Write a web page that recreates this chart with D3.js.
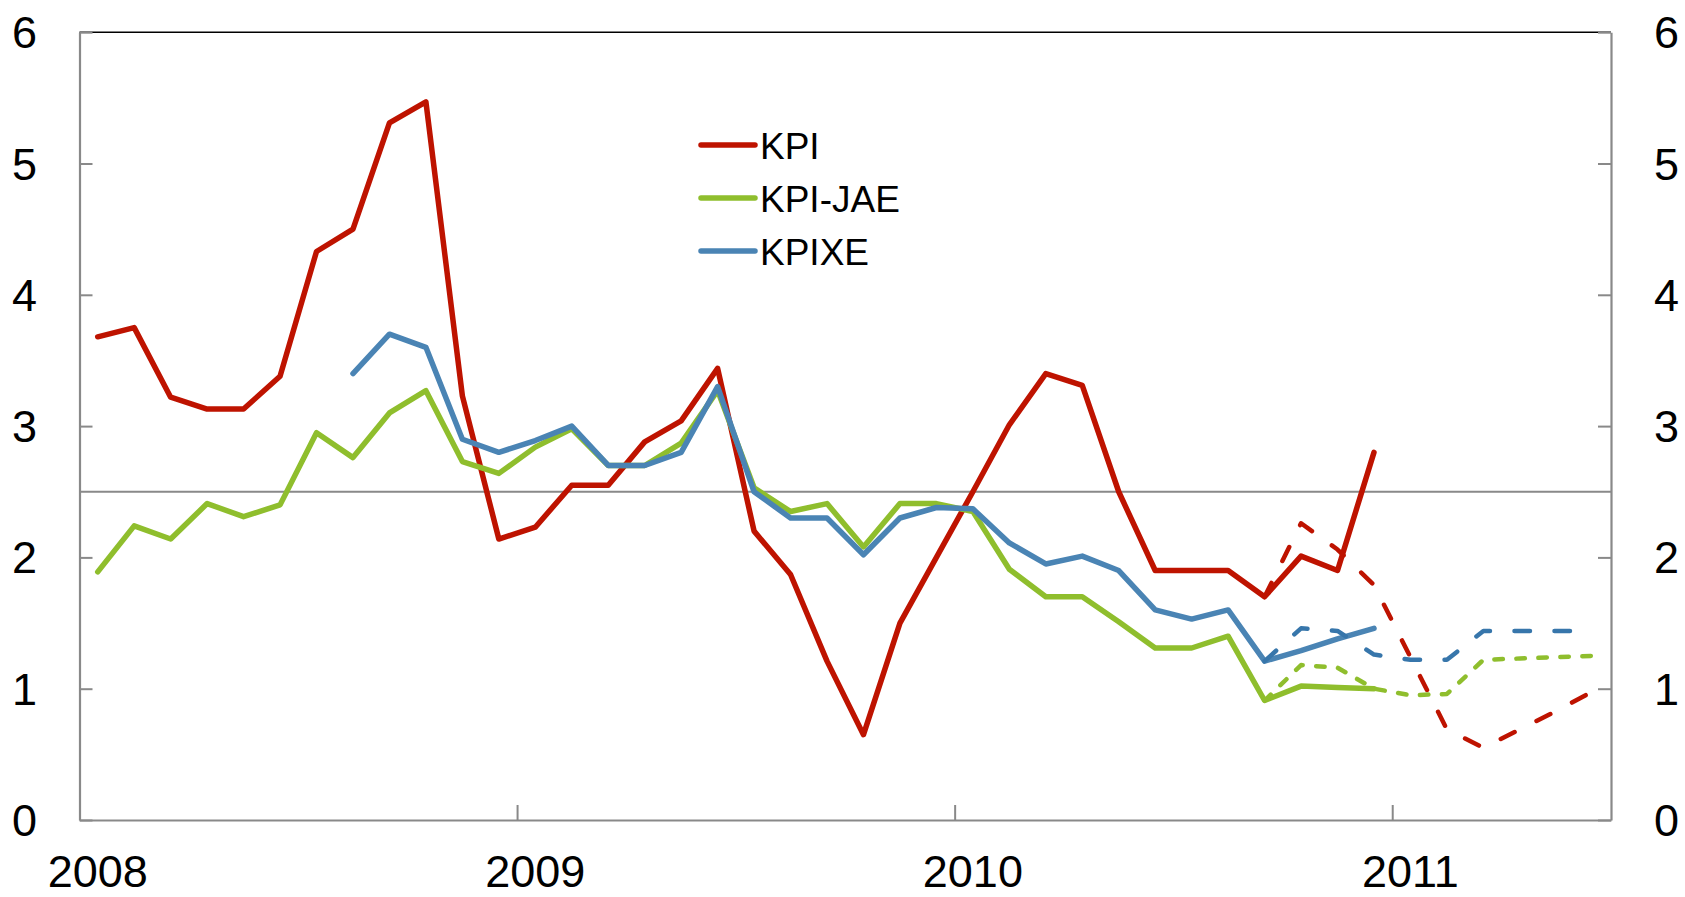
<!DOCTYPE html>
<html>
<head>
<meta charset="utf-8">
<script src="https://cdn.jsdelivr.net/npm/d3@7"></script>
<style>
  html, body { margin: 0; padding: 0; background: #fff; }
  svg { display: block; }
  text { font-family: "Liberation Sans", Arial, sans-serif; fill: #000; }
</style>
</head>
<body>
<svg id="chart" width="1685" height="897"></svg>
<script>
// Month index 0 = January 2008
const yearLabels = ["2008", "2009", "2010", "2011"];
const yTicks = [0, 1, 2, 3, 4, 5, 6];
const targetLevel = 2.5;

// Solid actual series (start month index given)
const kpiStart = 0;
const kpi = [3.68, 3.75, 3.22, 3.13, 3.13, 3.38, 4.33, 4.50, 5.31, 5.47, 3.23, 2.14,
             2.23, 2.55, 2.55, 2.88, 3.04, 3.44, 2.20, 1.87, 1.21, 0.65, 1.50, 2.00,
             2.50, 3.01, 3.40, 3.31, 2.50, 1.90, 1.90, 1.90, 1.70, 2.01, 1.90, 2.80];
const kpiJaeStart = 0;
const kpiJae = [1.89, 2.24, 2.14, 2.41, 2.31, 2.40, 2.95, 2.76, 3.10, 3.27, 2.73, 2.64,
                2.84, 2.98, 2.70, 2.70, 2.87, 3.27, 2.53, 2.35, 2.41, 2.08, 2.41, 2.41,
                2.35, 1.91, 1.70, 1.70, 1.51, 1.31, 1.31, 1.40, 0.91, 1.02, 1.01, 1.00];
const kpixeStart = 7;
const kpixe = [3.40, 3.70, 3.60, 2.90, 2.80, 2.89,
               3.00, 2.70, 2.70, 2.80, 3.30, 2.50, 2.30, 2.30, 2.02, 2.30, 2.38,
               2.37, 2.11, 1.95, 2.01, 1.90, 1.60, 1.53, 1.60, 1.21, 1.29, 1.38, 1.46];

// Dashed projections (start month index 32 = September 2010)
const projStart = 32;
const kpiProj    = [1.70, 2.26, 2.06, 1.79, 1.24, 0.69, 0.55, 0.69, 0.83, 0.98];
const kpiJaeProj = [0.91, 1.18, 1.16, 1.00, 0.95, 0.96, 1.22, 1.23, 1.24, 1.25];
const kpixeProj  = [1.21, 1.46, 1.44, 1.26, 1.22, 1.22, 1.44, 1.44, 1.44, 1.44];

const seriesNames = ["KPI", "KPI-JAE", "KPIXE"];
const colors = { "KPI": "#BE1300", "KPI-JAE": "#8FBE2D", "KPIXE": "#4A84B4" };
const projColors = { "KPI": "#BE1300", "KPI-JAE": "#8FBE2D", "KPIXE": "#3776AB" };

const svg = d3.select("#chart");
const plotLeft = 79.5, plotRight = 1611, plotTop = 32.2, plotBottom = 820;
const x = d3.scaleLinear().domain([0, 42]).range([plotLeft, plotRight]);
const y = d3.scaleLinear().domain([0, 6]).range([plotBottom, plotTop]);
const gray = "#898989";

// target line
svg.append("line")
  .attr("x1", x(0)).attr("x2", x(42))
  .attr("y1", y(targetLevel)).attr("y2", y(targetLevel))
  .attr("stroke", gray).attr("stroke-width", 2);

// top border
svg.append("line")
  .attr("x1", x(0)).attr("x2", x(42))
  .attr("y1", y(6)).attr("y2", y(6))
  .attr("stroke", "#000").attr("stroke-width", 1.6);

// axes
const leftAxis = d3.axisRight(y).tickValues(yTicks).tickSize(13).tickSizeOuter(0).tickFormat("");
const gl = svg.append("g").attr("transform", `translate(${x(0)},0)`).call(leftAxis);
const rightAxis = d3.axisLeft(y).tickValues(yTicks).tickSize(13).tickSizeOuter(0).tickFormat("");
const gr = svg.append("g").attr("transform", `translate(${x(42)},0)`).call(rightAxis);
const bottomAxis = d3.axisTop(x).tickValues([0, 12, 24, 36]).tickSize(15).tickSizeOuter(0).tickFormat("");
const gb = svg.append("g").attr("transform", `translate(0,${y(0)})`).call(bottomAxis);
[gl, gr, gb].forEach(g => {
  g.select(".domain").attr("stroke", gray).attr("stroke-width", 2.2);
  g.selectAll(".tick line").attr("stroke", gray).attr("stroke-width", 2);
});

// y labels
svg.append("g").selectAll("text").data(yTicks).join("text")
  .attr("x", 37).attr("y", d => y(d) + 16)
  .attr("text-anchor", "end").attr("font-size", 45).text(d => d);
svg.append("g").selectAll("text").data(yTicks).join("text")
  .attr("x", 1654).attr("y", d => y(d) + 16)
  .attr("text-anchor", "start").attr("font-size", 45).text(d => d);

// year labels
svg.append("g").selectAll("text").data(yearLabels).join("text")
  .attr("x", (d, i) => x(i * 12 + 0.5)).attr("y", 887)
  .attr("text-anchor", "middle").attr("font-size", 45).text(d => d);

const line = d3.line().x(d => x(d[0] + 0.5)).y(d => y(d[1]));
const toPts = (arr, start) => arr.map((v, i) => [start + i, v]);

const solid = [
  { name: "KPI", pts: toPts(kpi, kpiStart) },
  { name: "KPI-JAE", pts: toPts(kpiJae, kpiJaeStart) },
  { name: "KPIXE", pts: toPts(kpixe, kpixeStart) }
];
const proj = [
  { name: "KPI", pts: toPts(kpiProj, projStart), dash: "15.5,24.5" },
  { name: "KPI-JAE", pts: toPts(kpiJaeProj, projStart), dash: "8.5,13.5" },
  { name: "KPIXE", pts: toPts(kpixeProj, projStart), dash: "15.5,24.5" }
];

svg.append("g").selectAll("path").data(solid).join("path")
  .attr("d", d => line(d.pts))
  .attr("fill", "none").attr("stroke", d => colors[d.name])
  .attr("stroke-width", 5.5).attr("stroke-linejoin", "round").attr("stroke-linecap", "round");

svg.append("g").selectAll("path").data(proj).join("path")
  .attr("d", d => line(d.pts))
  .attr("fill", "none").attr("stroke", d => projColors[d.name])
  .attr("stroke-width", 4.5).attr("stroke-dasharray", d => d.dash)
  .attr("stroke-linejoin", "round").attr("stroke-linecap", "round");

// legend
const legendY = [145, 198, 251];
const lg = svg.append("g");
seriesNames.forEach((n, i) => {
  lg.append("line").attr("x1", 701).attr("x2", 755)
    .attr("y1", legendY[i]).attr("y2", legendY[i])
    .attr("stroke", colors[n]).attr("stroke-width", 5.5).attr("stroke-linecap", "round");
  lg.append("text").attr("x", 760).attr("y", legendY[i] + 13.5)
    .attr("font-size", 37).text(n);
});
</script>
</body>
</html>
